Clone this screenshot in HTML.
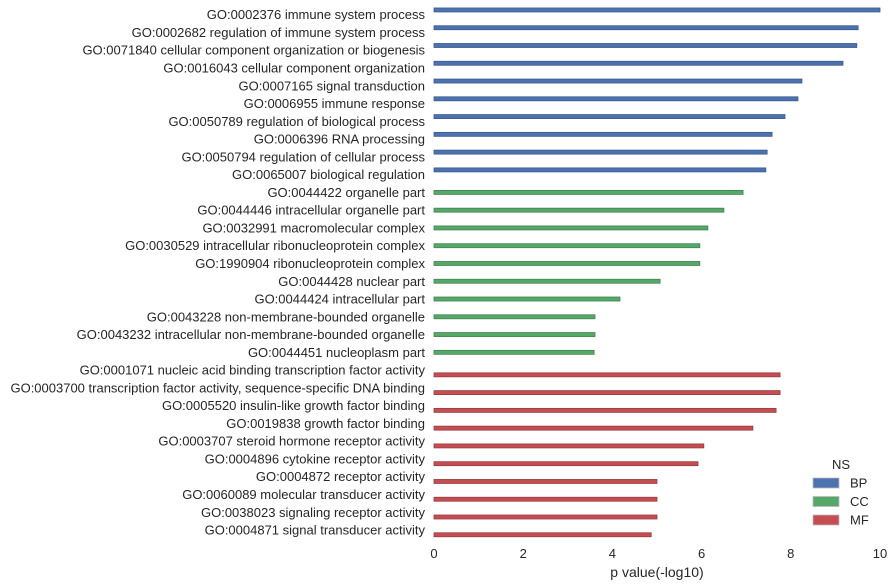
<!DOCTYPE html>
<html><head><meta charset="utf-8"><style>
body{margin:0;background:#fff;}
svg{display:block;font-family:"Liberation Sans","DejaVu Sans",sans-serif;}
</style></head><body>
<svg id="chart" width="894" height="587" viewBox="0 0 894 587"></svg>
<script>
const categories = ["GO:0002376 immune system process","GO:0002682 regulation of immune system process","GO:0071840 cellular component organization or biogenesis","GO:0016043 cellular component organization","GO:0007165 signal transduction","GO:0006955 immune response","GO:0050789 regulation of biological process","GO:0006396 RNA processing","GO:0050794 regulation of cellular process","GO:0065007 biological regulation","GO:0044422 organelle part","GO:0044446 intracellular organelle part","GO:0032991 macromolecular complex","GO:0030529 intracellular ribonucleoprotein complex","GO:1990904 ribonucleoprotein complex","GO:0044428 nuclear part","GO:0044424 intracellular part","GO:0043228 non-membrane-bounded organelle","GO:0043232 intracellular non-membrane-bounded organelle","GO:0044451 nucleoplasm part","GO:0001071 nucleic acid binding transcription factor activity","GO:0003700 transcription factor activity, sequence-specific DNA binding","GO:0005520 insulin-like growth factor binding","GO:0019838 growth factor binding","GO:0003707 steroid hormone receptor activity","GO:0004896 cytokine receptor activity","GO:0004872 receptor activity","GO:0060089 molecular transducer activity","GO:0038023 signaling receptor activity","GO:0004871 signal transducer activity"];
const pvalues = [10.0,9.51,9.48,9.17,8.25,8.16,7.87,7.58,7.47,7.44,6.93,6.50,6.14,5.96,5.96,5.07,4.17,3.61,3.61,3.59,7.76,7.76,7.67,7.15,6.05,5.92,5.00,5.00,5.00,4.87];
const namespaces = ["BP","BP","BP","BP","BP","BP","BP","BP","BP","BP","CC","CC","CC","CC","CC","CC","CC","CC","CC","CC","MF","MF","MF","MF","MF","MF","MF","MF","MF","MF"];
const hues = ["BP","CC","MF"];
const xTicks = [0,2,4,6,8,10];

const colors = {BP:"#4c72b0",CC:"#55a868",MF:"#c44e52"};
const edges = {BP:"#3a5a8c",CC:"#41824f",MF:"#983b3e"};
const svg = document.getElementById('chart');
const NS = "http://www.w3.org/2000/svg";
const x0 = 434, x1 = 880, xMax = 10;
const rowH = 17.77, c0 = 14.7;
const xs = v => x0 + (v / xMax) * (x1 - x0);
const yc = i => c0 + i * rowH;
const hueOff = h => (hues.indexOf(h) - 1) * rowH * 0.2667;
function mk(tag, attrs, text){const e=document.createElementNS(NS,tag);for(const k in attrs)e.setAttribute(k,attrs[k]);if(text!==undefined)e.textContent=text;svg.appendChild(e);return e;}

categories.forEach((c,i)=>{
  const t = mk('text',{x:425,y:yc(i)+4.5,'text-anchor':'end','font-size':13,fill:'#262626'},c);
  
  
  const cy = yc(i) + hueOff(namespaces[i]);
  const b = mk('rect',{x:x0,y:cy-2,width:xs(pvalues[i])-x0,height:4,fill:colors[namespaces[i]],stroke:edges[namespaces[i]],'stroke-width':0.8});
  
  
});
xTicks.forEach(v=>{
  const t = mk('text',{x:xs(v),y:558,'text-anchor':'middle','font-size':13,fill:'#262626'},String(v));
  
  
});
const xt = mk('text',{x:657,y:577,'text-anchor':'middle','font-size':14,fill:'#262626'},'p value(-log10)');


const lt = mk('text',{x:841,y:469,'text-anchor':'middle','font-size':13,fill:'#262626'},'NS');


hues.forEach((h,k)=>{
  const y = 483 + k*18.5;
  const r = mk('rect',{x:813,y:y-5,width:26,height:10,fill:colors[h],stroke:'#bbb','stroke-width':0.8});
  
  
  const t = mk('text',{x:850,y:y+4.5,'font-size':13,fill:'#262626'},h);
  
  
});
</script>
</body></html>
